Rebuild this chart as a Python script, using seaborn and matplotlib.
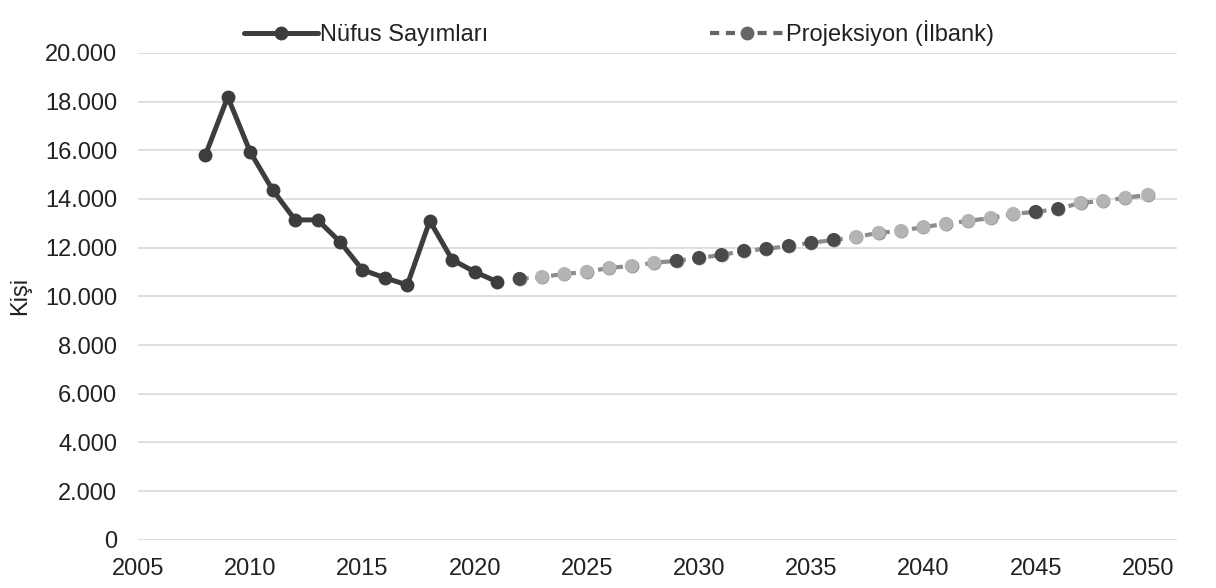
import matplotlib
matplotlib.use("Agg")
import matplotlib.pyplot as plt
import seaborn as sns
import pandas as pd
import numpy as np
from matplotlib.ticker import FuncFormatter

# census counts
census_years = list(range(2008, 2022))
census_pop = [15800, 18190, 15930, 14370, 13140, 13140, 12240,
              11090, 10760, 10470, 13100, 11500, 11010, 10600]

# Ilbank projection
proj_years = list(range(2022, 2051))
proj_pop = [10720, 10800, 10920, 11010, 11170, 11250, 11380, 11460,
            11580, 11700, 11870, 11950, 12070, 12200, 12320, 12440,
            12610, 12690, 12850, 12980, 13100, 13220, 13390, 13470,
            13590, 13840, 13920, 14050, 14170]

labels = ["Nüfus Sayımları", "Projeksiyon (İlbank)"]

census = pd.DataFrame({"yil": census_years, "kisi": census_pop})
proj = pd.DataFrame({"yil": proj_years, "kisi": proj_pop})

# the scanned original shows the projection in alternating dark / light bands
dark_bands = [(2021, 2022), (2029, 2036), (2045, 2046)]
proj["band"] = ["dark" if any(a <= y <= b for a, b in dark_bands) else "light"
                for y in proj["yil"]]

sns.set_theme(style="white")
plt.rcParams["font.family"] = ["Liberation Sans", "DejaVu Sans"]

fig, ax = plt.subplots(figsize=(12.16, 5.88), dpi=100)
fig.subplots_adjust(left=0.1135, right=0.968, top=0.91, bottom=0.082)

sns.lineplot(data=census, x="yil", y="kisi", ax=ax, color="#3d3d3d",
             linewidth=3.6, marker="o", markersize=10, markeredgewidth=0,
             label=labels[0])

sns.lineplot(data=proj, x="yil", y="kisi", ax=ax, color="#8c8c8c",
             linewidth=3, linestyle=(0, (2.2, 1.6)), marker="o", markersize=10,
             markeredgewidth=0, label=labels[1])

light = proj[proj["band"] == "light"]
dark = proj[proj["band"] == "dark"]
sns.scatterplot(data=light, x="yil", y="kisi", ax=ax, color="#b4b4b4",
                s=100, edgecolor="none", legend=False, zorder=3)
sns.scatterplot(data=dark, x="yil", y="kisi", ax=ax, color="#4a4a4a",
                s=100, edgecolor="none", legend=False, zorder=3)

ax.set_xlim(2005, 2051.3)
ax.set_ylim(0, 20000)
ax.set_xticks(range(2005, 2051, 5))
ax.set_yticks(range(0, 20001, 2000))
ax.yaxis.set_major_formatter(FuncFormatter(lambda v, p: f"{int(v):,}".replace(",", ".")))
ax.grid(axis="y", color="#dcdcdc", linewidth=1.3)
ax.set_axisbelow(True)
for s in ax.spines.values():
    s.set_visible(False)
ax.tick_params(axis="both", labelsize=17, colors="#222222", length=0)
ax.tick_params(axis="y", pad=15)
ax.tick_params(axis="x", pad=13)
ax.set_xlabel("")
ax.set_ylabel("Kişi", fontsize=17, color="#222222")
ax.yaxis.set_label_coords(-0.103, 0.5)

leg = ax.legend(loc="lower center", bbox_to_anchor=(0.463, 0.97), ncol=2, frameon=False,
                fontsize=17, columnspacing=9.4, handlelength=3.1, handletextpad=0.1,
                labelcolor="#222222")
leg.legend_handles[1].set_color("#666666")

plt.savefig("out.png", dpi=100)
